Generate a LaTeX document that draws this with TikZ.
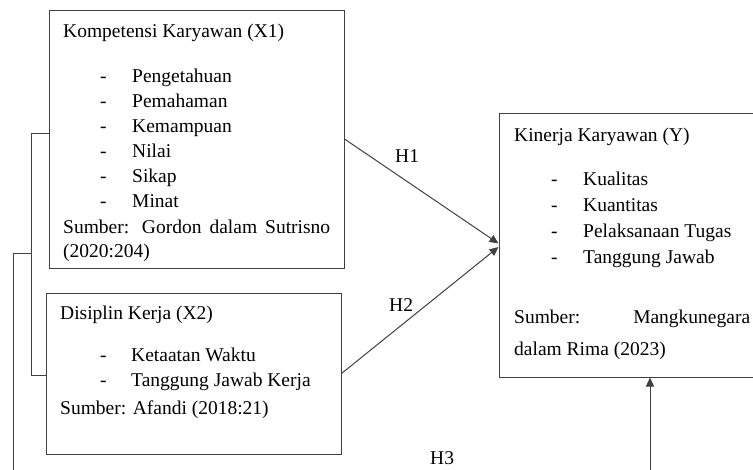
\documentclass[tikz,border=0pt]{standalone}
\usepackage{fontspec}
\setmainfont{Liberation Serif}
\usetikzlibrary{arrows.meta}
\tikzset{
  box/.style={draw=black!75, line width=1pt, inner sep=0, rectangle},
  txt/.style={anchor=base west, inner sep=0, font=\fontsize{19.5}{24}\selectfont},
  link/.style={draw=black!75, line width=1pt},
  arr/.style={link, -{Triangle[length=9pt,width=8pt]}}
}
\begin{document}
\begin{tikzpicture}[x=1pt,y=-1pt]
  \clip (0,0) rectangle (753,469);
  % boxes
  \node[box, minimum width=295pt, minimum height=258pt] (x1) at (196.5,139) {};
  \node[box, minimum width=295pt, minimum height=161pt] (x2) at (193.5,373.5) {};
  \node[box, minimum width=262pt, minimum height=264pt] (y) at (630,245) {};
  % X1
  \node[txt] (x1t) at (63,37) {Kompetensi Karyawan (X1)};
  \foreach \t [count=\i] in {Pengetahuan,Pemahaman,Kemampuan,Nilai,Sikap,Minat}{
    \node[txt] (x1d\i) at (100,57+25*\i) {-};
    \node[txt] (x1i\i) at (132,57+25*\i) {\t};
  }
  \node[txt] (x1s) at (63,233) {\makebox[267pt][s]{Sumber: Gordon dalam Sutrisno}};
  \node[txt] (x1r) at (63,257) {(2020:204)};
  % X2
  \node[txt] (x2t) at (60,319) {Disiplin Kerja (X2)};
  \foreach \t [count=\i] in {Ketaatan Waktu,Tanggung Jawab Kerja}{
    \node[txt] (x2d\i) at (100,336+25*\i) {-};
    \node[txt] (x2i\i) at (131,336+25*\i) {\t};
  }
  \node[txt] (x2s) at (60,414) {Sumber: Afandi (2018:21)};
  % Y
  \node[txt] (yt) at (514,141) {Kinerja Karyawan (Y)};
  \foreach \t [count=\i] in {Kualitas,Kuantitas,Pelaksanaan Tugas,Tanggung Jawab}{
    \node[txt] (yd\i) at (551,159+26*\i) {-};
    \node[txt] (yi\i) at (583,159+26*\i) {\t};
  }
  \node[txt] (ys) at (514,323) {\makebox[236pt][s]{Sumber: Mangkunegara}};
  \node[txt] (yr) at (514,355) {dalam Rima (2023)};
  % hypotheses
  \node[txt] (h1) at (395,162) {H1};
  \node[txt] (h2) at (389,311) {H2};
  \node[txt] (h3) at (430,464) {H3};
  \draw[arr] (x1.east) -- ([yshift=1.5pt]y.west);
  \draw[arr] (x2.east) -- ([yshift=-2pt]y.west);
  % bracket to the left
  \coordinate (b1) at (31,133);
  \coordinate (b2) at (31,375);
  \coordinate (b3) at (31,253);
  \coordinate (b4) at (13,253);
  \coordinate (b5) at (13,480);
  \draw[link] (x1.west |- b1) -- (b1) -- (b2) -- (x2.west |- b2);
  \draw[link] (b3) -- (b4) -- (b5);
  \coordinate (v0) at (650,480);
  \draw[arr] (v0) -- (y.south -| v0);
\end{tikzpicture}
\end{document}
